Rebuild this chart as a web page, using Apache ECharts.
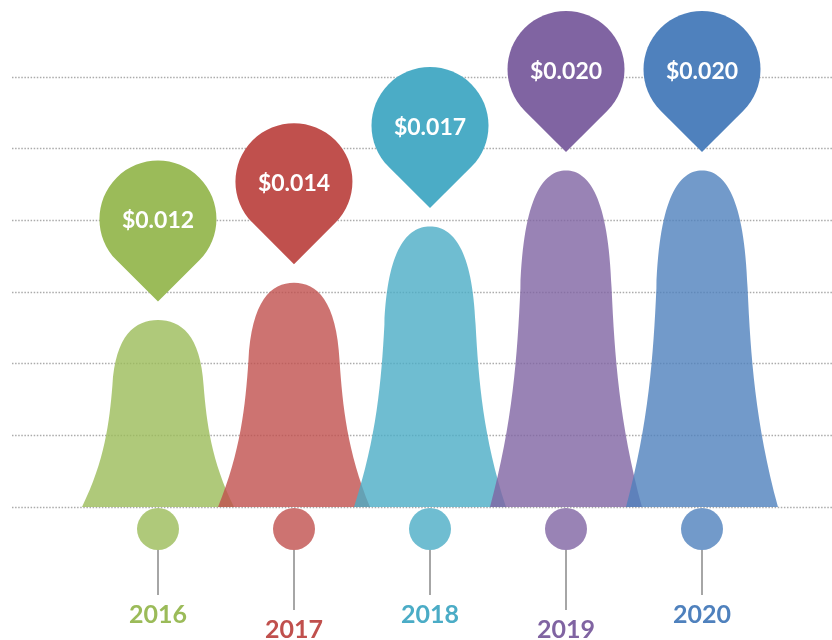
<!DOCTYPE html>
<html>
<head>
<meta charset="utf-8">
<title>Price per year</title>
<script src="https://cdn.jsdelivr.net/npm/echarts@6/dist/echarts.min.js"></script>
<style>
  html, body { margin: 0; padding: 0; background: #fff; }
  #chart { width: 832px; height: 640px; }
</style>
</head>
<body>
<div id="chart"></div>
<script>
// data
var years = ['2016', '2017', '2018', '2019', '2020'];
var prices = [0.012, 0.014, 0.017, 0.020, 0.020];

var darkColors = ['#9BBB59', '#C0504D', '#4BACC6', '#8064A2', '#4F81BD'];

function fade(hex, a) {
  var n = parseInt(hex.slice(1), 16);
  return 'rgba(' + (n >> 16) + ',' + ((n >> 8) & 255) + ',' + (n & 255) + ',' + a + ')';
}
var lightColors = darkColors.map(function (c) { return fade(c, 0.8); });

var yMin = 0.002;
var bellPath = 'M0 100 C15 75 18 55 20 35 C22 8 35 0 50 0 C65 0 78 8 80 35 C82 55 85 75 100 100 Z';
var pinPath = 'path://M0 141.42 L-70.71 70.71 C-109.76 31.66 -109.76 -31.66 -70.71 -70.71 ' +
  'C-31.66 -109.76 31.66 -109.76 70.71 -70.71 C109.76 -31.66 109.76 31.66 70.71 70.71 Z';

var seriesData = prices.map(function (v, i) { return [i, v]; });

var chart = echarts.init(document.getElementById('chart'));

chart.setOption({
  animation: false,
  backgroundColor: '#fff',
  grid: [
    { left: 12, right: 0, top: 77, bottom: 133 },
    { left: 90, right: 62, top: 77, bottom: 133 }
  ],
  xAxis: [
    { gridIndex: 0, type: 'value', min: 0, max: 1, show: false },
    { gridIndex: 1, type: 'category', data: years, show: false }
  ],
  yAxis: [
    {
      gridIndex: 0, type: 'value', min: 0, max: 6, interval: 1,
      axisLine: { show: false }, axisTick: { show: false }, axisLabel: { show: false },
      splitLine: { show: true, lineStyle: { color: '#ABABAB', width: 1.3, type: [1.5, 1.6] } }
    },
    { gridIndex: 1, type: 'value', min: yMin, max: 0.025, show: false, splitLine: { show: false } }
  ],
  series: [
    {
      // bells
      type: 'custom',
      xAxisIndex: 1, yAxisIndex: 1,
      data: seriesData,
      encode: { x: 0, y: 1 },
      renderItem: function (params, api) {
        var i = api.value(0);
        var top = api.coord([i, api.value(1)]);
        var base = api.coord([i, yMin]);
        var w = 152;
        return {
          type: 'path',
          shape: { pathData: bellPath, x: top[0] - w / 2, y: top[1], width: w, height: base[1] - top[1], layout: 'cover' },
          style: { fill: lightColors[i] }
        };
      },
      z: 2
    },
    {
      // pins with price labels
      type: 'scatter',
      xAxisIndex: 1, yAxisIndex: 1,
      data: seriesData,
      symbol: pinPath,
      symbolSize: [117, 141],
      symbolOffset: [0, -89],
      itemStyle: {
        opacity: 1,
        color: function (p) { return darkColors[p.dataIndex]; }
      },
      label: {
        show: true,
        position: 'inside',
        offset: [0, -10],
        color: '#fff',
        fontFamily: 'Lato',
        fontWeight: 'bold',
        fontSize: 23,
        formatter: function (p) { return '$' + p.value[1].toFixed(3); }
      },
      z: 4
    },
    {
      // circles, stems and year labels under the baseline
      type: 'custom',
      xAxisIndex: 1, yAxisIndex: 1,
      data: seriesData,
      encode: { x: 0, y: 1 },
      renderItem: function (params, api) {
        var i = api.value(0);
        var p = api.coord([i, yMin]);
        var lower = i % 2 === 1;
        return {
          type: 'group',
          children: [
            {
              type: 'line',
              shape: { x1: p[0], y1: p[1] + 43, x2: p[0], y2: p[1] + (lower ? 103 : 88) },
              style: { stroke: '#A6A6A6', lineWidth: 2 }
            },
            {
              type: 'circle',
              shape: { cx: p[0], cy: p[1] + 22, r: 21 },
              style: { fill: lightColors[i] }
            },
            {
              type: 'text',
              x: p[0],
              y: p[1] + (lower ? 123 : 108),
              style: {
                text: years[i],
                fill: darkColors[i],
                font: 'bold 25px Lato',
                align: 'center',
                verticalAlign: 'middle'
              }
            }
          ]
        };
      },
      z: 3
    }
  ]
});
</script>
</body>
</html>
